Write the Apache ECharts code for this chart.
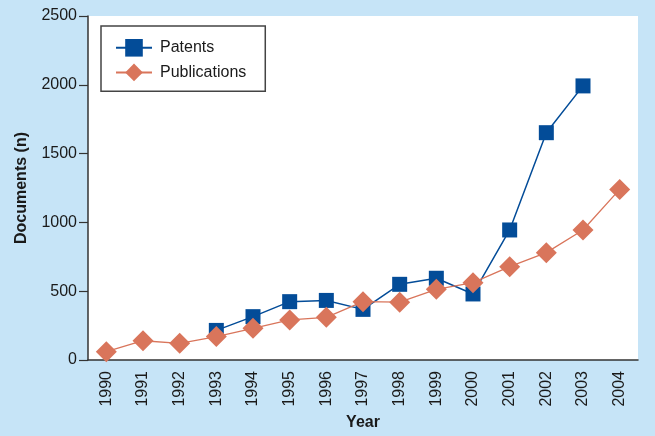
<!DOCTYPE html>
<html>
<head>
<meta charset="utf-8">
<script src="https://cdn.jsdelivr.net/npm/echarts@6/dist/echarts.min.js"></script>
<style>
html,body{margin:0;padding:0;background:#c6e4f7;}
#chart{width:655px;height:436px;}
</style>
</head>
<body>
<div id="chart"></div>
<script>
const years = ['1990','1991','1992','1993','1994','1995','1996','1997','1998','1999','2000','2001','2002','2003','2004'];
const patents = [null, null, null, 215, 315, 424, 433, 368, 550, 594, 480, 945, 1652, 1992, null];
const publications = [60, 140, 121, 170, 230, 291, 310, 424, 420, 514, 562, 678, 780, 945, 1240];
const yTicks = [0, 500, 1000, 1500, 2000, 2500];

const textColor = '#1a1a1a';
const chart = echarts.init(document.getElementById('chart'), null, {renderer: 'canvas'});
chart.setOption({
  backgroundColor: '#c6e4f7',
  animation: false,
  textStyle: {fontFamily: 'Liberation Sans, Arial, sans-serif'},
  grid: {left: 88, right: 17, top: 16, bottom: 76, show: true, backgroundColor: '#ffffff', borderWidth: 0},
  legend: {
    left: 101, top: 26, orient: 'vertical',
    backgroundColor: '#ffffff',
    borderColor: '#444444', borderWidth: 1.5, borderRadius: 0,
    padding: [13, 19, 10, 14],
    itemWidth: 36, itemHeight: 22, itemGap: 7,
    textStyle: {fontSize: 16, color: textColor, padding: [0, 0, 0, 3]},
    data: ['Patents', 'Publications']
  },
  xAxis: {
    type: 'category', data: years, boundaryGap: true,
    name: 'Year', nameLocation: 'middle', nameGap: 54,
    nameTextStyle: {fontSize: 16, fontWeight: 'bold', color: textColor, verticalAlign: 'top'},
    axisLine: {lineStyle: {color: '#333333', width: 1.5}},
    axisTick: {alignWithLabel: true, length: 7, lineStyle: {color: '#333333', width: 1.2}},
    axisLabel: {rotate: 90, fontSize: 16, color: textColor, margin: 11},
    splitLine: {show: false}
  },
  yAxis: {
    type: 'value', min: 0, max: 2500, interval: 500,
    name: 'Documents (n)', nameLocation: 'middle', nameGap: 58,
    nameTextStyle: {fontSize: 16, fontWeight: 'bold', color: textColor},
    axisLine: {show: true, lineStyle: {color: '#333333', width: 1.5}},
    axisTick: {show: true, length: 9, lineStyle: {color: '#333333', width: 1.2}},
    axisLabel: {fontSize: 16, color: textColor, margin: 11,
      formatter: v => yTicks.includes(v) ? String(v) : ''},
    splitLine: {show: false}
  },
  series: [
    {
      name: 'Patents', type: 'line', data: patents, connectNulls: false,
      symbol: 'rect', symbolSize: 15, showSymbol: true,
      itemStyle: {color: '#034c98'},
      lineStyle: {color: '#034c98', width: 1.5},
      z: 2
    },
    {
      name: 'Publications', type: 'line', data: publications,
      symbol: 'diamond', symbolSize: 21, showSymbol: true,
      itemStyle: {color: '#d9755b'},
      lineStyle: {color: '#d9755b', width: 1.3},
      z: 3
    }
  ]
});
</script>
</body>
</html>
